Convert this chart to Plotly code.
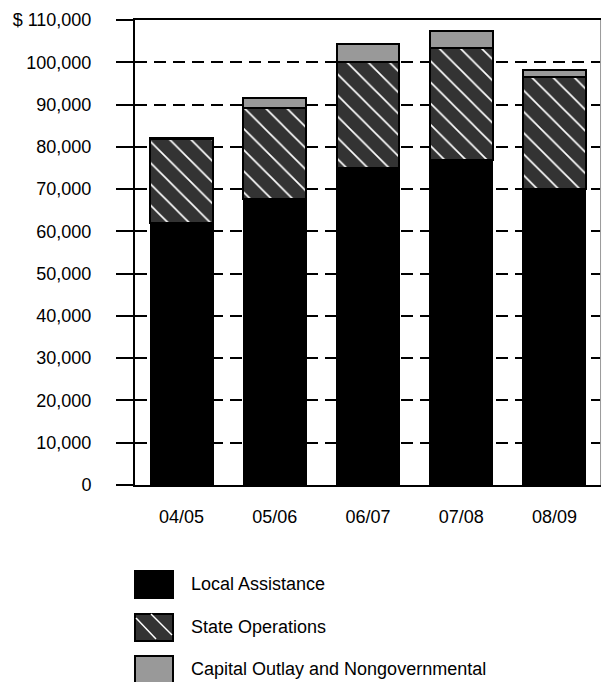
import plotly.graph_objects as go

categories = ["04/05", "05/06", "06/07", "07/08", "08/09"]
local_assistance = [62000, 67600, 75100, 76900, 70000]
state_operations = [19800, 21500, 25050, 26550, 26450]
capital_outlay = [400, 2400, 4100, 3950, 1800]
tick_values = [0, 10000, 20000, 30000, 40000, 50000, 60000, 70000, 80000, 90000, 100000, 110000]
tick_labels = ["0", "10,000", "20,000", "30,000", "40,000", "50,000", "60,000",
               "70,000", "80,000", "90,000", "100,000", "$ 110,000"]
legend_names = ["Local Assistance", "State Operations", "Capital Outlay and Nongovernmental"]

W, H = 602, 682
L, R, T, B = 135, 1, 20, 197
PW, PH = W - L - R, H - T - B
FONT = "Liberation Sans, Arial, Helvetica, sans-serif"


def px(xp):
    return (xp - L) / PW


def py(yp):
    return (H - B - yp) / PH


fig = go.Figure()
fig.add_trace(go.Bar(x=categories, y=local_assistance, name=legend_names[0],
                     marker=dict(color="#000000", line=dict(color="#000000", width=1))))
fig.add_trace(go.Bar(x=categories, y=state_operations, name=legend_names[1],
                     marker=dict(color="#333333", line=dict(color="#000000", width=2),
                                 pattern=dict(shape="\\", fgcolor="#ffffff", bgcolor="#333333",
                                              size=15, solidity=0.11, fillmode="replace"))))
fig.add_trace(go.Bar(x=categories, y=capital_outlay, name=legend_names[2],
                     marker=dict(color="#999999", line=dict(color="#000000", width=2))))

shapes = []
annotations = []
fills = ["#000000", "#333333", "#999999"]
row_tops = [570, 613, 655]
for i, (name, fill, top) in enumerate(zip(legend_names, fills, row_tops)):
    shapes.append(dict(type="rect", xref="paper", yref="paper",
                       x0=px(135), x1=px(173), y0=py(top + 1), y1=py(top + 28),
                       fillcolor=fill, line=dict(color="#000000", width=2), layer="above"))
    if i == 1:
        for (a, b, c, d) in [(136, top + 5, 156, top + 26), (151, top + 1, 172, top + 22)]:
            shapes.append(dict(type="line", xref="paper", yref="paper",
                               x0=px(a), y0=py(b), x1=px(c), y1=py(d),
                               line=dict(color="#ffffff", width=1.5), layer="above"))
    annotations.append(dict(xref="paper", yref="paper", x=px(189), y=py(top + 14),
                            text=name, showarrow=False, xanchor="left", yanchor="middle",
                            font=dict(family=FONT, size=18, color="#000000")))

# right border
shapes.append(dict(type="line", xref="paper", yref="paper", x0=0.999, x1=0.999, y0=0, y1=1,
                   line=dict(color="#999999", width=1), layer="above"))

fig.update_layout(
    width=W, height=H,
    margin=dict(l=L, r=R, t=T, b=B, pad=0),
    barmode="stack", bargap=0.325,
    showlegend=False,
    plot_bgcolor="#ffffff", paper_bgcolor="#ffffff",
    font=dict(family=FONT, size=18, color="#000000"),
    shapes=shapes, annotations=annotations,
    xaxis=dict(showline=True, linecolor="#000000", linewidth=2, mirror=True,
               showgrid=False, ticks="", ticklabelstandoff=14,
               tickfont=dict(family=FONT, size=18, color="#000000")),
    yaxis=dict(range=[0, 110000], tickvals=tick_values, ticktext=tick_labels,
               showline=True, linecolor="#000000", linewidth=2,
               ticks="outside", ticklen=17, tickwidth=2, tickcolor="#000000",
               showgrid=True, gridcolor="#000000", gridwidth=2, griddash="12px,7px",
               zeroline=False, ticklabelstandoff=21,
               tickfont=dict(family=FONT, size=18, color="#000000")),
)

fig.write_html("out.html")
